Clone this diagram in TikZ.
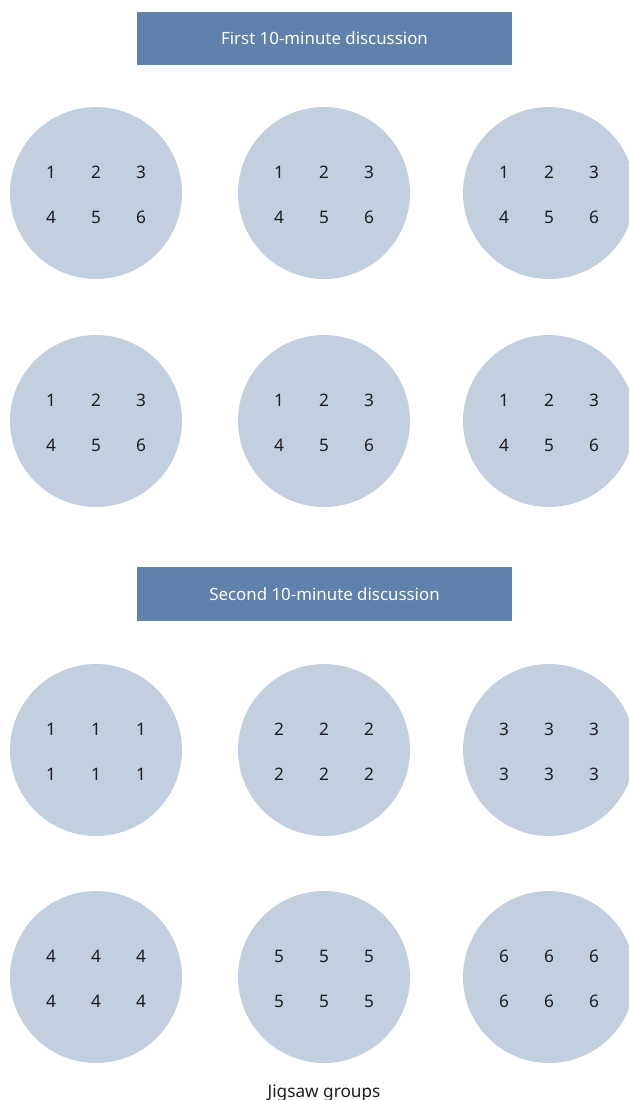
\documentclass[tikz,border=0pt]{standalone}
\usepackage{fontspec}
\setmainfont{Noto Sans}
\usetikzlibrary{positioning}
\definecolor{bannerblue}{HTML}{5F81AB}
\definecolor{groupfill}{HTML}{C1CFDE}
\definecolor{digitgray}{HTML}{1E1E1E}
\tikzset{
  banner/.style={fill=bannerblue,text=white,minimum width=7.5cm,minimum height=1.07cm,
    inner sep=0pt,font=\fontsize{9.6}{11}\selectfont},
  grp/.style={circle,fill=groupfill,minimum size=3.44cm,inner sep=0pt},
  dig/.style={text=digitgray,inner sep=0pt,font=\fontsize{9.8}{11}\selectfont}
}

\begin{document}
\begin{tikzpicture}[x=0.02cm,y=-0.02cm]
\useasboundingbox (0,0) rectangle (629,1100);
% first round
\node[banner] (first) at (324.5,38.5) {First 10-minute discussion};
\foreach \r/\yy in {1/193,2/421} {
  \foreach \c/\xx in {1/96,2/324,3/549} {
    \node[grp] (a\r\c) at (\xx,\yy) {};
    \foreach \d/\dx/\dy in {1/-45/-21,2/0/-21,3/45/-21,4/-45/24,5/0/24,6/45/24}
      \node[dig] (a\r\c-\d) at (\xx+\dx,\yy+\dy) {\d};
  }
}
% second round
\node[banner] (second) at (324.5,594) {Second 10-minute discussion};
\foreach \r/\yy in {1/750,2/977} {
  \foreach \c/\xx in {1/96,2/324,3/549} {
    \pgfmathtruncatemacro{\k}{3*(\r-1)+\c}
    \node[grp] (b\r\c) at (\xx,\yy) {};
    \foreach \d/\dx/\dy in {1/-45/-21,2/0/-21,3/45/-21,4/-45/24,5/0/24,6/45/24}
      \node[dig] (b\r\c-\d) at (\xx+\dx,\yy+\dy) {\k};
  }
}
\node[dig] (caption) at (324,1093) {Jigsaw groups};
\end{tikzpicture}
\end{document}
